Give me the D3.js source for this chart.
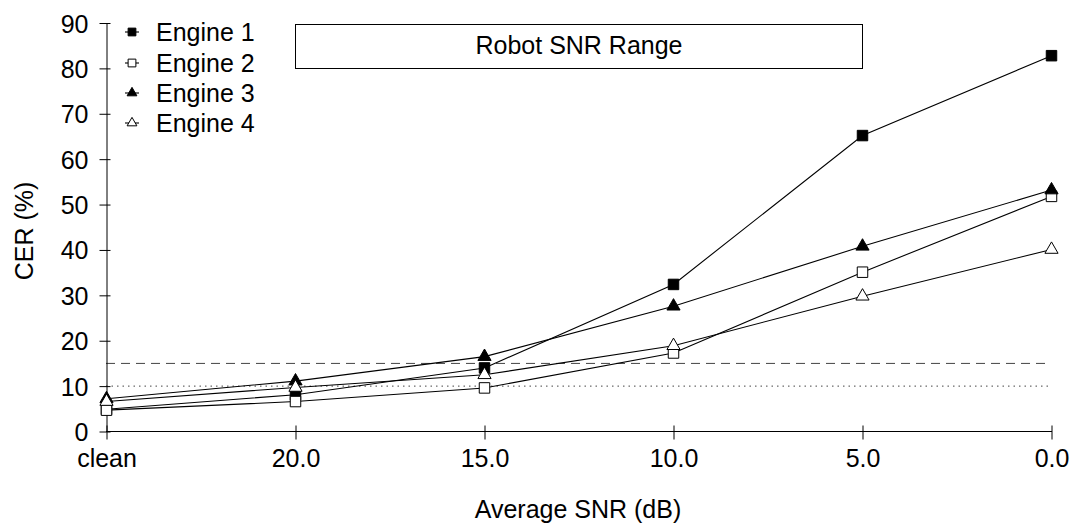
<!DOCTYPE html>
<html><head><meta charset="utf-8">
<script src="https://cdn.jsdelivr.net/npm/d3@7"></script>
<style>body{margin:0;background:#fff}text{font-family:"Liberation Sans",Arial,sans-serif;fill:#000}</style>
</head><body>
<svg id="c" width="1071" height="524"></svg>
<script>
const categories = ["clean","20.0","15.0","10.0","5.0","0.0"];
const engine1 = [4.9, 8.1, 14.0, 32.4, 65.2, 82.8];
const engine2 = [4.7, 6.6, 9.6, 17.3, 35.1, 51.8];
const engine3 = [7.2, 11.1, 16.5, 27.6, 40.8, 53.2];
const engine4 = [6.6, 9.7, 12.5, 18.9, 29.8, 40.1];
const seriesNames = ["Engine 1","Engine 2","Engine 3","Engine 4"];
const yTicks = [0,10,20,30,40,50,60,70,80,90];
const refLines = [15, 10];
const boxLabel = "Robot SNR Range";

const svg = d3.select("#c");
const x = d3.scalePoint().domain(categories).range([106.5, 1051.5]);
const y = d3.scaleLinear().domain([0, 90]).range([431.5, 23]);

// reference lines
svg.append("line").attr("x1",106).attr("x2",1051).attr("y1",y(refLines[0])).attr("y2",y(refLines[0]))
  .attr("stroke","#444").attr("stroke-width",1).attr("stroke-dasharray","9,6");
svg.append("line").attr("x1",106).attr("x2",1051).attr("y1",y(refLines[1])).attr("y2",y(refLines[1]))
  .attr("stroke","#444").attr("stroke-width",1).attr("stroke-dasharray","1.5,4");

// axes
const yAxis = d3.axisLeft(y).tickValues(yTicks).tickSizeInner(7).tickSizeOuter(0).tickPadding(11);
const gy = svg.append("g").attr("transform","translate(106.5,0)").call(yAxis);
gy.selectAll(".tick line").attr("x2",4).attr("x1",-7).attr("stroke","#000");
gy.select(".domain").attr("stroke","#000");
gy.selectAll("text").style("font-size","25px").attr("dy","0.36em");

const xAxis = d3.axisBottom(x).tickSizeInner(8).tickSizeOuter(0).tickPadding(10);
const gx = svg.append("g").attr("transform","translate(0,431.5)").call(xAxis);
gx.selectAll(".tick line").attr("y1",-6).attr("y2",8).attr("stroke","#000");
gx.select(".domain").attr("stroke","#000").attr("d","M106,0H1052");
gx.selectAll("text").style("font-size","25px").attr("y",35).attr("dy","0");

// series
const data = [engine1, engine2, engine3, engine4];
const shapes = [
  {type:d3.symbolSquare, fill:"#000", size:110},
  {type:d3.symbolSquare, fill:"#fff", size:110},
  {type:d3.symbolTriangle, fill:"#000", size:75},
  {type:d3.symbolTriangle, fill:"#fff", size:75}
];
const line = d3.line().x((d,i)=>x(categories[i])).y(d=>y(d));
data.forEach((vals,k)=>{
  svg.append("path").attr("d",line(vals)).attr("fill","none").attr("stroke","#000").attr("stroke-width",1.1);
});
data.forEach((vals,k)=>{
  const s = shapes[k];
  svg.selectAll(null).data(vals).enter().append("path")
    .attr("d", d3.symbol().type(s.type).size(s.size)())
    .attr("transform",(d,i)=>`translate(${x(categories[i])},${y(d)})`)
    .attr("fill",s.fill).attr("stroke","#000").attr("stroke-width",1);
});

// legend
const legY = [32, 63, 93, 123];
seriesNames.forEach((n,k)=>{
  const g = svg.append("g").attr("transform",`translate(132,${legY[k]})`);
  g.append("line").attr("x1",-7).attr("x2",7).attr("stroke","#000").attr("stroke-width",1.1);
  const s = shapes[k];
  g.append("path").attr("d", d3.symbol().type(s.type).size(s.size*0.55)())
    .attr("fill",s.fill).attr("stroke","#000").attr("stroke-width",1);
  g.append("text").attr("x",24).attr("dy","0.36em").style("font-size","25px").text(n);
});

// box
svg.append("rect").attr("x",295.5).attr("y",24.5).attr("width",567).attr("height",44)
  .attr("fill","#fff").attr("stroke","#000").attr("stroke-width",1);
svg.append("text").attr("x",579).attr("y",54).attr("text-anchor","middle")
  .style("font-size","25px").text(boxLabel);

// axis titles
svg.append("text").attr("transform","translate(33,231) rotate(-90)").attr("text-anchor","middle")
  .style("font-size","25px").text("CER (%)");
svg.append("text").attr("x",578).attr("y",518).attr("text-anchor","middle")
  .style("font-size","25px").text("Average SNR (dB)");
</script>
</body></html>
